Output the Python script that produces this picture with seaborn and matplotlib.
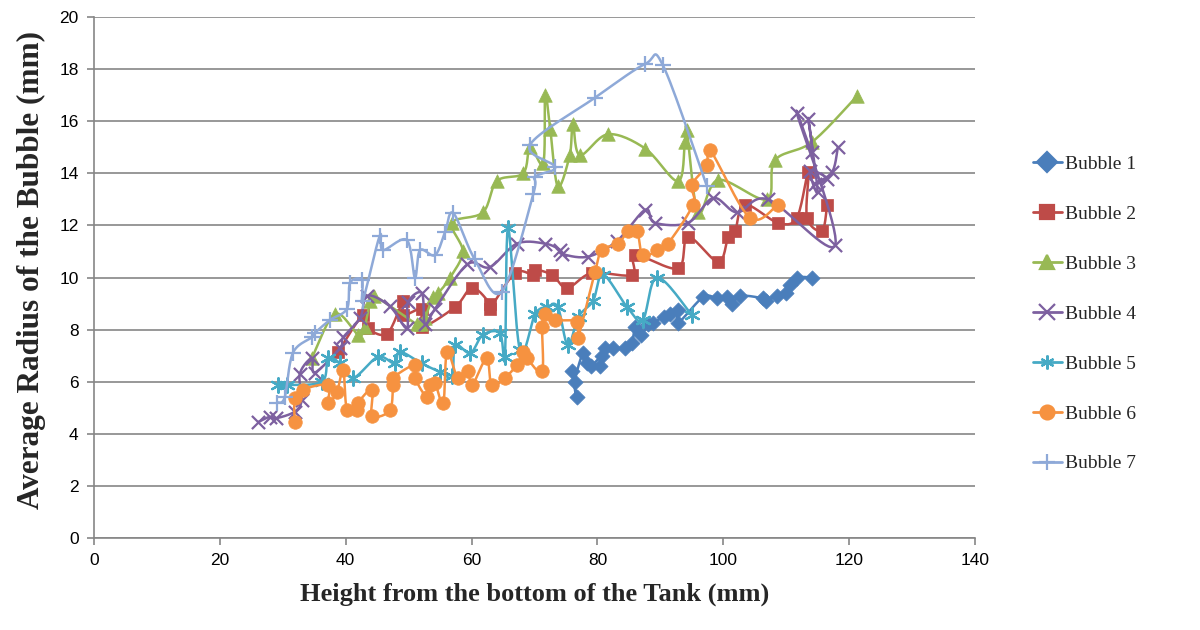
import numpy as np
import pandas as pd
import matplotlib
matplotlib.use("Agg")
import matplotlib.pyplot as plt
import seaborn as sns
from matplotlib.lines import Line2D

# ---------------- data ----------------
names = ["Bubble 1", "Bubble 2", "Bubble 3", "Bubble 4", "Bubble 5", "Bubble 6", "Bubble 7"]

x1 = [76.0, 76.7, 76.4, 77.7, 78.3, 79.0, 80.7, 80.4, 81.2, 82.5, 84.4, 85.5, 86.0, 87.0, 88.0,
      88.8, 90.5, 91.5, 92.8, 92.8, 96.8, 99.0, 100.6, 101.4, 102.7, 106.3, 106.8, 108.5, 110.0,
      110.6, 111.7, 114.1]
y1 = [6.4, 5.4, 6.0, 7.1, 6.7, 6.6, 7.0, 6.6, 7.3, 7.3, 7.3, 7.5, 8.1, 7.8, 8.2,
      8.25, 8.5, 8.6, 8.75, 8.25, 9.25, 9.2, 9.25, 9.0, 9.3, 9.2, 9.1, 9.3, 9.4,
      9.7, 10.0, 10.0]

x2 = [38.8, 42.7, 43.5, 46.6, 49.1, 49.1, 52.1, 52.1, 57.4, 60.1, 62.9, 62.9, 66.9, 69.8,
      70.1, 72.8, 75.2, 79.1, 85.5, 86.0, 92.8, 94.4, 99.2, 100.8, 101.9, 103.4, 108.7,
      111.7, 113.5, 113.3, 115.7, 116.5]
y2 = [7.15, 8.55, 8.05, 7.85, 9.1, 8.55, 8.8, 8.1, 8.87, 9.6, 9.0, 8.8, 10.17, 10.1,
      10.3, 10.1, 9.6, 10.17, 10.1, 10.86, 10.35, 11.56, 10.6, 11.56, 11.8, 12.8, 12.1,
      12.3, 14.05, 12.3, 11.8, 12.8]

x3 = [34.6, 38.3, 42.0, 43.0, 43.9, 44.5, 51.3, 52.0, 52.6, 53.9, 54.7, 56.6, 58.6, 56.9,
      61.8, 64.0, 68.2, 69.3, 71.4, 71.7, 72.5, 73.7, 75.6, 76.1, 77.2, 81.7, 87.6, 92.8,
      93.9, 94.2, 96.0, 99.2, 106.9, 108.2, 114.1, 121.2]
y3 = [6.9, 8.6, 7.8, 8.1, 9.1, 9.3, 8.2, 8.2, 8.45, 9.25, 9.4, 10.0, 11.0, 12.1,
      12.5, 13.7, 14.0, 15.0, 14.4, 17.0, 15.7, 13.5, 14.7, 15.9, 14.7, 15.5, 14.95, 13.7,
      15.2, 15.65, 12.5, 13.75, 13.0, 14.5, 15.2, 16.95]

x4 = [26.1, 27.9, 29.0, 31.9, 33.0, 32.7, 34.6, 35.1, 39.1, 39.6, 42.3, 43.4, 47.0, 49.7,
      49.9, 52.1, 52.6, 54.2, 59.3, 62.9, 67.2, 71.7, 74.1, 74.4, 78.5, 83.1, 87.6, 89.1,
      94.4, 98.4, 102.2, 107.1, 117.8, 111.7, 114.1, 113.5, 115.0, 113.8, 116.5, 114.6,
      117.3, 118.2]
y4 = [4.45, 4.65, 4.6, 4.85, 5.3, 6.3, 6.9, 6.35, 7.3, 7.7, 8.45, 9.3, 8.9, 8.05,
      9.05, 9.4, 8.2, 8.8, 10.5, 10.4, 11.3, 11.3, 11.05, 10.9, 10.8, 11.4, 12.6, 12.1,
      12.1, 13.05, 12.5, 13.0, 11.25, 16.3, 14.8, 16.1, 13.3, 14.1, 13.8, 13.6,
      14.05, 15.0]

x5 = [29.2, 30.6, 36.2, 37.2, 39.1, 41.2, 45.1, 47.8, 48.6, 52.1, 55.0, 56.9, 57.4, 59.8,
      61.8, 64.5, 65.3, 65.8, 67.7, 70.1, 72.0, 73.7, 75.3, 77.0, 79.3, 80.9, 84.7, 87.2,
      89.5, 95.0]
y5 = [5.87, 5.87, 6.0, 6.9, 6.7, 6.15, 6.95, 6.7, 7.15, 6.7, 6.37, 6.2, 7.4, 7.1,
      7.8, 7.87, 6.95, 11.9, 7.2, 8.6, 8.87, 8.87, 7.4, 8.5, 9.1, 10.1, 8.87, 8.37,
      10.0, 8.56]

x6 = [31.9, 31.9, 33.2, 37.2, 37.2, 38.6, 39.6, 40.2, 41.8, 42.0, 44.2, 44.2, 47.0, 47.5,
      47.5, 51.0, 51.0, 52.9, 53.4, 54.2, 55.5, 56.1, 57.8, 59.4, 60.1, 62.4, 63.2, 65.3,
      67.2, 68.2, 68.8, 71.2, 71.2, 71.7, 73.3, 76.8, 76.9, 79.6, 80.7, 83.3, 84.9, 86.3,
      87.2, 89.5, 91.2, 95.2, 95.0, 97.4, 97.9, 104.2, 108.7]
y6 = [4.45, 5.37, 5.7, 5.87, 5.2, 5.6, 6.45, 4.9, 4.9, 5.2, 5.7, 4.7, 4.9, 5.87,
      6.15, 6.65, 6.15, 5.4, 5.87, 5.95, 5.17, 7.15, 6.15, 6.4, 5.87, 6.9, 5.87, 6.15,
      6.65, 7.15, 6.9, 6.4, 8.1, 8.6, 8.37, 8.3, 7.67, 10.2, 11.05, 11.3, 11.8, 11.8,
      10.85, 11.05, 11.3, 12.8, 13.55, 14.3, 14.9, 12.3, 12.8]

x7 = [29.1, 30.3, 31.6, 34.6, 35.1, 37.5, 40.2, 40.7, 42.6, 42.7, 45.4, 45.9, 49.7, 51.0,
      51.8, 54.2, 55.8, 57.1, 60.5, 64.8, 69.8, 70.1, 73.3, 69.3, 79.6, 87.6, 90.4, 97.4]
y7 = [5.2, 5.4, 7.1, 7.7, 7.87, 8.37, 8.8, 9.8, 9.9, 9.1, 11.6, 11.05, 11.44, 10.0,
      11.05, 10.86, 11.75, 12.47, 10.7, 9.45, 13.2, 13.86, 14.24, 15.1, 16.9, 18.2, 18.15, 13.5]

xs = [x1, x2, x3, x4, x5, x6, x7]
ys = [y1, y2, y3, y4, y5, y6, y7]

colors = ["#4A7EBB", "#BE4B48", "#98B954", "#7D60A0", "#46AAC5", "#F69240", "#8EA9D8"]
markers = ["D", "s", "^", "x", (6, 2, 0), "o", "+"]
msizes = [60, 75, 95, 90, 110, 95, 130]

x_ticks = [0, 20, 40, 60, 80, 100, 120, 140]
y_ticks = [0, 2, 4, 6, 8, 10, 12, 14, 16, 18, 20]


def smooth(x, y, n=16):
    """Excel-like smoothed line (Catmull-Rom Bezier) through the data points."""
    P = np.column_stack([x, y]).astype(float)
    if len(P) < 3:
        return P[:, 0], P[:, 1]
    Pe = np.vstack([P[0], P, P[-1]])
    out = []
    t = np.linspace(0, 1, n, endpoint=False)[:, None]
    for i in range(1, len(Pe) - 2):
        p0, p1, p2, p3 = Pe[i - 1], Pe[i], Pe[i + 1], Pe[i + 2]
        c1 = p1 + (p2 - p0) / 6.0
        c2 = p2 - (p3 - p1) / 6.0
        seg = ((1 - t) ** 3) * p1 + 3 * ((1 - t) ** 2) * t * c1 + 3 * (1 - t) * t ** 2 * c2 + t ** 3 * p2
        out.append(seg)
    out.append(P[-1][None, :])
    out = np.vstack(out)
    return out[:, 0], out[:, 1]


# ---------------- plot ----------------
sns.set_theme(style="white")
plt.rcParams["font.family"] = ["Liberation Sans", "DejaVu Sans"]

fig = plt.figure(figsize=(12, 6.3), dpi=100)
ax = fig.add_axes([94 / 1200, 1 - 538 / 630, (975 - 94) / 1200, (538 - 17) / 630])

for i in range(7):
    sx, sy = smooth(xs[i], ys[i])
    dfl = pd.DataFrame({"x": sx, "y": sy})
    sns.lineplot(data=dfl, x="x", y="y", sort=False, estimator=None, color=colors[i],
                 linewidth=1.8, ax=ax, zorder=3 + i * 2, legend=False)
    dfp = pd.DataFrame({"x": xs[i], "y": ys[i]})
    m = markers[i]
    if m in ("x", "+", (6, 2, 0)):
        sns.scatterplot(data=dfp, x="x", y="y", marker=m, s=msizes[i], color=colors[i],
                        linewidth=1.6, ax=ax, zorder=4 + i * 2, legend=False)
    else:
        sns.scatterplot(data=dfp, x="x", y="y", marker=m, s=msizes[i], color=colors[i],
                        edgecolor=colors[i], linewidth=0.5, ax=ax, zorder=4 + i * 2, legend=False)

ax.set_xlim(0, 140)
ax.set_ylim(0, 20)
ax.set_xticks(x_ticks)
ax.set_yticks(y_ticks)
ax.set_xticklabels([str(v) for v in x_ticks], fontsize=12.5)
ax.set_yticklabels([str(v) for v in y_ticks], fontsize=12.5)
ax.yaxis.grid(True, color="#868686", linewidth=1.2)
ax.xaxis.grid(False)
ax.set_axisbelow(True)
for s in ["top", "right"]:
    ax.spines[s].set_visible(False)
for s in ["left", "bottom"]:
    ax.spines[s].set_color("#868686")
    ax.spines[s].set_linewidth(1.2)
ax.tick_params(axis="both", which="major", direction="out", length=5, width=1.2,
               color="#868686", labelcolor="black", pad=6, bottom=True, left=True)

ax.set_xlabel("Height from the bottom of the Tank (mm)", fontsize=19, fontweight="bold",
              family=["Liberation Serif"], labelpad=10)
ax.set_ylabel("Average Radius of the Bubble (mm)", fontsize=22.5, fontweight="bold",
              family=["Liberation Serif"], labelpad=13)
ax.yaxis.set_label_coords(-0.055, 0.514)

handles = []
for i in range(7):
    m = markers[i]
    handles.append(Line2D([0], [0], color=colors[i], linewidth=2, marker=m,
                          markersize=10 if m not in ("x", "+") else 11,
                          markerfacecolor=colors[i], markeredgecolor=colors[i],
                          markeredgewidth=1.6))
leg = fig.legend(handles, names, loc="center left", bbox_to_anchor=(1023 / 1200, 1 - 314 / 630),
                 frameon=False, prop={"family": "Liberation Serif", "size": 14},
                 labelspacing=1.66, handlelength=1.5, handletextpad=0.15, borderpad=0)

fig.savefig("out.png", dpi=100)
